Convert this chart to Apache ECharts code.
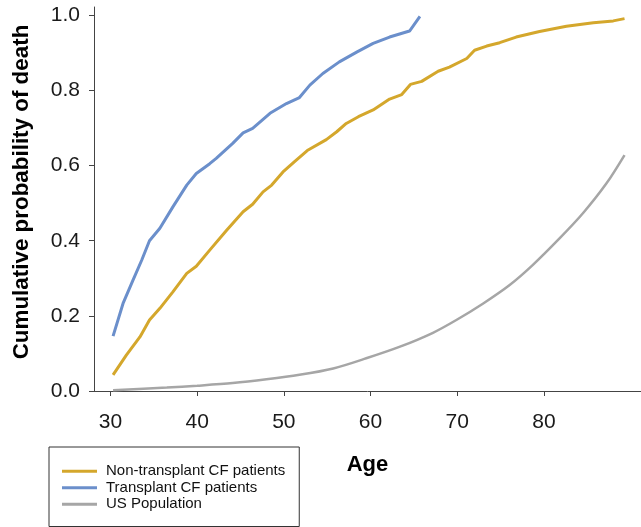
<!DOCTYPE html>
<html>
<head>
<meta charset="utf-8">
<script src="https://cdn.jsdelivr.net/npm/echarts@6/dist/echarts.min.js"></script>
<style>html,body{margin:0;padding:0;background:#fff;}#c{width:641px;height:527px;}</style>
</head>
<body>
<div id="c"></div>
<script>
var seriesNames = ['Non-transplant CF patients', 'Transplant CF patients', 'US Population'];
var xTicks = [30, 40, 50, 60, 70, 80];
var yTicks = [0, 0.2, 0.4, 0.6, 0.8, 1.0];

var nonTransplantAge = [30.3, 31.85, 33.4, 34.5, 35.7, 37.2, 38.8, 39.9, 41.45, 43.4, 45.3, 46.4, 47.6, 48.6, 49.9, 51.3, 52.7, 54.9, 56.1, 57.2, 58.6, 60.3, 62.2, 63.6, 64.6, 65.9, 67.8, 69.1, 71.1, 72.0, 73.4, 74.9, 76.8, 79.5, 82.6, 85.7, 88.0, 89.3];
var nonTransplantP = [0.043, 0.096, 0.144, 0.189, 0.22, 0.264, 0.313, 0.332, 0.375, 0.428, 0.477, 0.497, 0.53, 0.548, 0.583, 0.612, 0.640, 0.669, 0.69, 0.712, 0.73, 0.748, 0.777, 0.789, 0.816, 0.824, 0.851, 0.862, 0.885, 0.907, 0.918, 0.927, 0.942, 0.957, 0.971, 0.98, 0.985, 0.991];

var transplantAge = [30.3, 31.45, 32.6, 33.6, 34.5, 35.7, 37.2, 38.8, 39.9, 41.45, 42.2, 44.1, 45.3, 46.4, 48.4, 50.3, 51.8, 53.0, 54.5, 56.4, 58.4, 60.3, 62.2, 64.5, 65.7];
var transplantP = [0.146, 0.233, 0.295, 0.348, 0.40, 0.433, 0.49, 0.548, 0.579, 0.605, 0.619, 0.659, 0.687, 0.699, 0.739, 0.765, 0.781, 0.814, 0.845, 0.876, 0.902, 0.925, 0.942, 0.958, 0.997];

var usAge = [30.3, 36.5, 40, 44.1, 48, 51.8, 55.7, 59.5, 63.4, 67.2, 69.9, 73.0, 76.05, 78.7, 81.8, 84.5, 87.2, 89.3];
var usP = [0.002, 0.009, 0.014, 0.021, 0.031, 0.043, 0.060, 0.087, 0.118, 0.155, 0.189, 0.233, 0.282, 0.335, 0.406, 0.473, 0.552, 0.628];

function pairs(xs, ys) { return xs.map(function (x, i) { return [x, ys[i]]; }); }

var FONT = "'Liberation Sans', Arial, sans-serif";
var chart = echarts.init(document.getElementById('c'), null, { renderer: 'canvas' });
chart.setOption({
  animation: false,
  backgroundColor: '#fff',
  grid: { left: 94, right: 0, top: 7, bottom: 136, containLabel: false },
  xAxis: {
    type: 'value', min: 28.1, max: 91.2,
    name: 'Age', nameLocation: 'middle', nameGap: 63,
    nameTextStyle: { fontFamily: FONT, fontWeight: 'bold', fontSize: 22, color: '#000' },
    axisLine: { show: true, lineStyle: { color: '#444', width: 1 } },
    axisTick: { show: true, length: 5, customValues: xTicks, lineStyle: { color: '#444' } },
    axisLabel: { customValues: xTicks, margin: 21, fontFamily: FONT, fontSize: 21, color: '#1a1a1a' },
    splitLine: { show: false }
  },
  yAxis: {
    type: 'value', min: 0, max: 1.022,
    name: 'Cumulative probability of death', nameLocation: 'middle', nameGap: 61,
    nameTextStyle: { fontFamily: FONT, fontWeight: 'bold', fontSize: 22.4, color: '#000', padding: [0, 0, 0, 14] },
    axisLine: { show: true, lineStyle: { color: '#444', width: 1 } },
    axisTick: { show: true, length: 5, customValues: yTicks, lineStyle: { color: '#444' } },
    axisLabel: { customValues: yTicks, margin: 14, fontFamily: FONT, fontSize: 21, color: '#1a1a1a',
      formatter: function (v) { return v.toFixed(1); } },
    splitLine: { show: false }
  },
  legend: {
    orient: 'vertical', left: 49, top: 447,
    data: seriesNames,
    icon: 'rect', itemWidth: 35, itemHeight: 3, itemGap: 0,
    padding: [16, 14, 14, 13],
    borderColor: '#333', borderWidth: 1,
    textStyle: { fontFamily: FONT, fontSize: 15, color: '#111', lineHeight: 16.5, padding: [0, 0, 0, 4] }
  },
  series: [
    { name: seriesNames[0], type: 'line', data: pairs(nonTransplantAge, nonTransplantP), showSymbol: false, symbol: 'none',
      lineStyle: { color: '#D4A72C', width: 3 }, itemStyle: { color: '#D4A72C' } },
    { name: seriesNames[1], type: 'line', data: pairs(transplantAge, transplantP), showSymbol: false, symbol: 'none',
      lineStyle: { color: '#6B8FCB', width: 3 }, itemStyle: { color: '#6B8FCB' } },
    { name: seriesNames[2], type: 'line', data: pairs(usAge, usP), showSymbol: false, symbol: 'none', smooth: 0.3,
      lineStyle: { color: '#A6A6A6', width: 2.5 }, itemStyle: { color: '#A6A6A6' } }
  ]
});
</script>
</body>
</html>
